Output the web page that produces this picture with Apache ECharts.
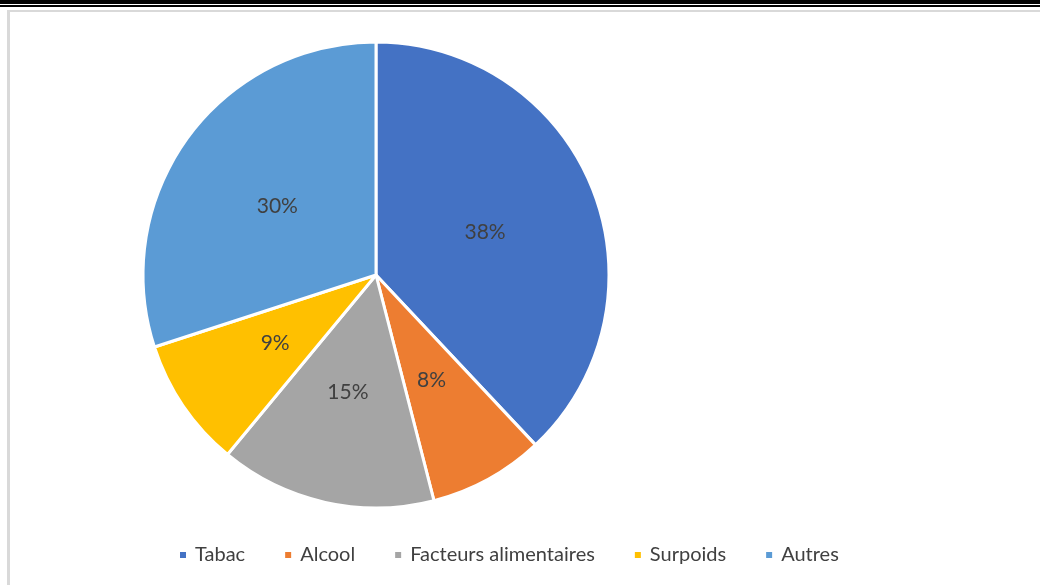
<!DOCTYPE html>
<html><head><meta charset="utf-8">
<script src="https://cdn.jsdelivr.net/npm/echarts@6/dist/echarts.min.js"></script>
<style>html,body{margin:0;padding:0;background:#fff}#c{width:1040px;height:585px}</style>
</head><body><div id="c"></div>
<script>
const categories = ["Tabac", "Alcool", "Facteurs alimentaires", "Surpoids", "Autres"];
const values = [38, 8, 15, 9, 30];
const colors = ["#4472C4", "#ED7D31", "#A5A5A5", "#FFC000", "#5B9BD5"];

const chart = echarts.init(document.getElementById('c'), null, {renderer: 'canvas'});
chart.setOption({
  animation: false,
  color: colors,
  graphic: [
    {type: 'rect', shape: {x: 0, y: 0, width: 1040, height: 4}, style: {fill: '#000'}},
    {type: 'rect', shape: {x: 0, y: 5, width: 1040, height: 2}, style: {fill: '#000'}},
    {type: 'rect', shape: {x: 7, y: 10, width: 1033, height: 2}, style: {fill: '#d9d9d9'}},
    {type: 'rect', shape: {x: 7, y: 10, width: 3, height: 575}, style: {fill: '#d9d9d9'}}
  ],
  legend: {
    data: categories,
    left: 173,
    top: 540,
    icon: 'rect',
    itemWidth: 8,
    itemHeight: 8,
    itemGap: 38,
    textStyle: {fontFamily: 'Lato', fontSize: 20, color: '#404040', padding: [0, 0, 0, 3]}
  },
  series: [{
    type: 'pie',
    center: [376, 275],
    radius: [0, 233],
    startAngle: 90,
    clockwise: true,
    data: categories.map((n, i) => ({name: n, value: values[i]})),
    itemStyle: {borderColor: '#fff', borderWidth: 3},
    label: {
      position: 'inside',
      formatter: '{d}%',
      fontFamily: 'Lato',
      fontSize: 21,
      color: '#404040',
      offset: [-2, 1]
    },
    labelLine: {show: false},
    emphasis: {disabled: true}
  }]
});
</script></body></html>
